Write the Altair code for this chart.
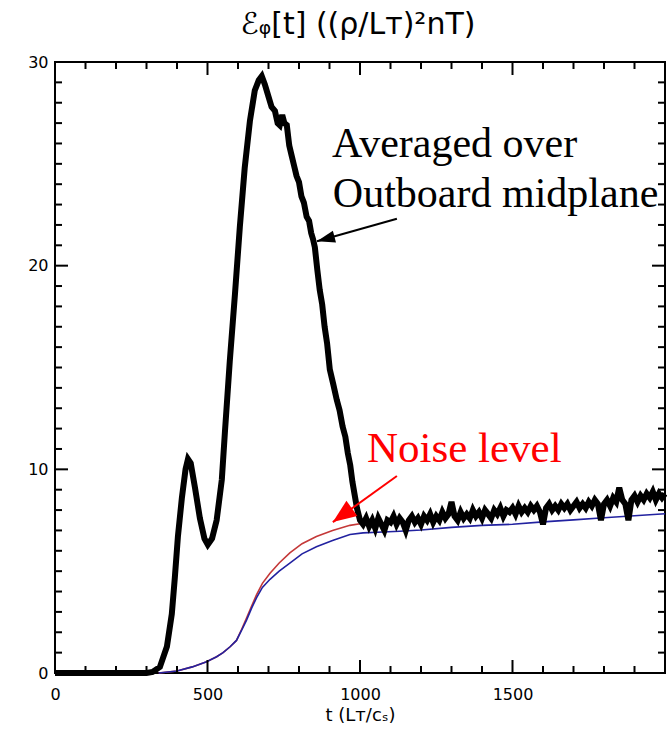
import altair as alt
import pandas as pd

# ---------------- data ----------------
# black: energy averaged over outboard midplane
black_t = [0, 100, 200, 300, 320, 344, 367, 383, 393, 403, 416, 428, 436, 445, 459, 475,
           490, 501, 515, 530, 547, 557, 573, 590, 606, 622, 639, 655, 668, 678, 688, 698,
           710, 721, 730, 737, 745, 752, 760, 768, 776, 784, 792, 800, 808, 816, 825, 833,
           840, 846, 852, 860, 868, 876, 884, 892, 901, 912, 924, 933, 943, 952, 960, 968,
           975, 983, 990,
           1000, 1010, 1020, 1030, 1040, 1050, 1060, 1070, 1080, 1090,
           1100, 1110, 1120, 1130, 1140, 1150, 1160, 1170, 1180, 1190,
           1200, 1210, 1220, 1230, 1240, 1250, 1260, 1270, 1280, 1290,
           1300, 1310, 1320, 1330, 1340, 1350, 1360, 1370, 1380, 1390,
           1400, 1410, 1420, 1430, 1440, 1450, 1460, 1470, 1480, 1490,
           1500, 1510, 1520, 1530, 1540, 1550, 1560, 1570, 1580, 1590,
           1600, 1610, 1620, 1630, 1640, 1650, 1660, 1670, 1680, 1690,
           1700, 1710, 1720, 1730, 1740, 1750, 1760, 1770, 1780, 1790,
           1800, 1810, 1820, 1830, 1840, 1850, 1860, 1870, 1880, 1890,
           1900, 1910, 1920, 1930, 1940, 1950, 1960, 1970, 1980, 1990, 2000]
black_v = [0.0, 0.0, 0.0, 0.0, 0.05, 0.3, 1.3, 2.9, 4.7, 6.7, 8.6, 10.0, 10.5, 10.3, 9.1, 7.6,
           6.6, 6.3, 6.6, 7.5, 9.5, 11.8, 15.3, 18.6, 21.9, 24.8, 27.1, 28.6, 29.1, 29.3, 28.9, 28.4,
           27.8, 27.6, 27.0, 26.9, 27.4, 27.0, 26.9, 25.9, 25.4, 24.9, 24.4, 24.1, 23.4, 23.1, 22.4, 22.2,
           21.6, 21.3, 20.9, 19.8, 18.8, 18.1, 17.0, 16.2, 14.9, 14.2, 13.4, 12.9, 12.1, 11.6, 10.8, 10.2,
           9.4, 8.7, 8.1,
           7.5, 7.3, 7.6, 7.2, 7.5, 7.1, 7.6, 7.3, 7.0, 7.5,
           7.4, 7.7, 7.3, 7.6, 7.4, 7.0, 7.5, 7.7, 7.4, 7.6,
           7.3, 7.7, 7.5, 7.8, 7.4, 7.7, 7.5, 7.9, 7.6, 7.8,
           8.4, 7.7, 7.5, 7.9, 7.6, 7.8, 7.6, 8.0, 7.7, 7.9,
           7.6, 8.0, 7.8, 7.6, 8.0, 7.8, 8.1, 7.7, 8.0, 7.9,
           8.1, 7.8, 8.2, 7.9, 8.1, 7.9, 8.2, 8.0, 8.2, 7.9,
           7.3, 8.1, 8.3, 8.0, 8.2, 8.0, 8.3, 8.1, 8.3, 8.0,
           8.2, 8.4, 8.1, 8.3, 8.1, 8.4, 8.2, 8.5, 8.3, 7.5,
           8.3, 8.5, 8.2, 8.6, 8.4, 9.1, 8.5, 8.3, 7.5, 8.5,
           8.7, 8.4, 8.7, 8.5, 8.8, 8.6, 8.9, 8.5, 8.8, 8.6, 8.8]

# blue: noise level (lower curve)
blue_t = [340, 400, 450, 497, 530, 551, 575, 595, 612, 628, 645, 661, 680, 705, 735, 770,
          810, 857, 910, 967, 1010, 1075, 1130, 1200, 1300, 1400, 1500, 1600, 1700, 1800,
          1900, 2000]
blue_v = [0.0, 0.1, 0.3, 0.55, 0.8, 1.0, 1.3, 1.6, 2.1, 2.6, 3.2, 3.7, 4.2, 4.6, 5.0, 5.4,
          5.85, 6.2, 6.5, 6.8, 6.88, 6.92, 6.96, 7.02, 7.15, 7.25, 7.3, 7.42, 7.52, 7.62,
          7.72, 7.82]

# red: noise level (upper curve)
red_t = [340, 400, 450, 497, 530, 551, 575, 595, 612, 628, 645, 661, 680, 705, 735, 770,
         810, 857, 910, 967, 1010]
red_v = [0.0, 0.1, 0.3, 0.55, 0.8, 1.0, 1.3, 1.6, 2.15, 2.7, 3.3, 3.85, 4.4, 4.9, 5.4, 5.9,
         6.35, 6.7, 7.0, 7.25, 7.35]

# axis tick values
x_major = [500, 1000, 1500]
x_minor = [100, 200, 300, 400, 600, 700, 800, 900, 1100, 1200, 1300, 1400,
           1600, 1700, 1800, 1900]
y_major = [10, 20]
y_minor = [1, 2, 3, 4, 5, 6, 7, 8, 9, 11, 12, 13, 14, 15, 16, 17, 18, 19,
           21, 22, 23, 24, 25, 26, 27, 28, 29]
x_labels = [0, 500, 1000, 1500]
y_labels = [0, 10, 20, 30]

TITLE = "ℰᵩ[t]  ((ρ/Lᴛ)²nT)"
X_TITLE = "t (Lᴛ/cₛ)"

# ---------------- chart ----------------
W, H = 610, 611
X0, X1, Y0, Y1 = 0, 2000, 0, 30
MAJ, MIN = 13, 7              # tick lengths in pixels
PX_X = W / (X1 - X0)          # pixels per x unit
PX_Y = H / (Y1 - Y0)          # pixels per y unit
FONT = "DejaVu Sans"

xs = alt.Scale(domain=[X0, X1], nice=False, zero=False)
ys = alt.Scale(domain=[Y0, Y1], nice=False, zero=False)

x_axis = alt.Axis(values=x_labels, format="d", ticks=False, domain=False, grid=False,
                  labelFlush=False, labelPadding=13, labelFont=FONT,
                  labelFontSize=16, labelColor="black",
                  title=X_TITLE, titleFont=FONT, titleFontSize=18,
                  titleFontWeight="normal", titleColor="black", titlePadding=4)
y_axis = alt.Axis(values=y_labels, format="d", ticks=False, domain=False, grid=False,
                  labelFlush=False, labelPadding=7, labelFont=FONT,
                  labelFontSize=16, labelColor="black", title=None)

def X(field):
    return alt.X(field, scale=xs, axis=x_axis)

def Y(field):
    return alt.Y(field, scale=ys, axis=y_axis)

df_black = pd.DataFrame({"t": black_t, "v": black_v})
df_blue = pd.DataFrame({"t": blue_t, "v": blue_v})
df_red = pd.DataFrame({"t": red_t, "v": red_v})

red = alt.Chart(df_red).mark_line(color="#c43838", strokeWidth=1.6).encode(
    x=X("t:Q"), y=Y("v:Q"))
blue = alt.Chart(df_blue).mark_line(color="#2222a0", strokeWidth=1.6).encode(
    x=X("t:Q"), y=Y("v:Q"))
black = alt.Chart(df_black).mark_line(color="black", strokeWidth=6,
                                      strokeJoin="miter").encode(
    x=X("t:Q"), y=Y("v:Q"))

# inward ticks on all four sides, built through the scales
xt_rows = []
for vals, ln in ((x_major, MAJ), (x_minor, MIN)):
    for v in vals:
        xt_rows.append({"x": v, "a": Y0, "b": Y0 + ln / PX_Y})
        xt_rows.append({"x": v, "a": Y1, "b": Y1 - ln / PX_Y})
yt_rows = []
for vals, ln in ((y_major, MAJ), (y_minor, MIN)):
    for v in vals:
        yt_rows.append({"y": v, "a": X0, "b": X0 + ln / PX_X})
        yt_rows.append({"y": v, "a": X1, "b": X1 - ln / PX_X})

xticks = alt.Chart(pd.DataFrame(xt_rows)).mark_rule(color="black", strokeWidth=2).encode(
    x=X("x:Q"), y=Y("a:Q"), y2="b:Q")
yticks = alt.Chart(pd.DataFrame(yt_rows)).mark_rule(color="black", strokeWidth=2).encode(
    y=Y("y:Q"), x=X("a:Q"), x2="b:Q")

# annotations (positions in data units)
ann_black = pd.DataFrame({"t": [908, 911], "v": [25.33, 22.88],
                          "label": ["Averaged over", "Outboard midplane"]})
ann_red = pd.DataFrame({"t": [1023], "v": [10.36], "label": ["Noise level"]})

txt_black = alt.Chart(ann_black).mark_text(
    font="Liberation Serif", fontSize=42, align="left", baseline="alphabetic",
    color="black").encode(x=X("t:Q"), y=Y("v:Q"), text="label:N")
txt_red = alt.Chart(ann_red).mark_text(
    font="Liberation Serif", fontSize=43, align="left", baseline="alphabetic",
    color="#ff0000").encode(x=X("t:Q"), y=Y("v:Q"), text="label:N")

arrows = pd.DataFrame({
    "t0": [1121, 1121], "v0": [22.3, 9.67],
    "t1": [859, 911], "v1": [21.2, 7.41],
    "col": ["black", "red"],
})
arrow_lines = alt.Chart(arrows).mark_rule(strokeWidth=2).encode(
    x=X("t0:Q"), x2="t1:Q", y=Y("v0:Q"), y2="v1:Q",
    color=alt.Color("col:N", scale=alt.Scale(domain=["black", "red"],
                                             range=["black", "#ff0000"]), legend=None),
)
head_black = alt.Chart(arrows.iloc[[0]]).mark_point(
    shape="M0,0L-1,-0.34L-1,0.34Z", filled=True, opacity=1, color="black",
    size=1300, angle=165.3).encode(x=X("t1:Q"), y=Y("v1:Q"))
head_red = alt.Chart(arrows.iloc[[1]]).mark_point(
    shape="M0,0L-1,-0.4L-1,0.4Z", filled=True, opacity=1, color="#ff0000",
    size=2200, angle=144.3).encode(x=X("t1:Q"), y=Y("v1:Q"))

title = alt.Chart(pd.DataFrame({"label": [TITLE]})).mark_text(
    font=FONT, fontSize=30, align="center", baseline="alphabetic",
    color="black").encode(text="label:N", x=alt.value(W / 2 - 2), y=alt.value(-28))

chart = alt.layer(red, blue, black, xticks, yticks, arrow_lines, head_black, head_red,
                  txt_black, txt_red, title).properties(
    width=W, height=H,
    autosize=alt.AutoSizeParams(type="none"),
    padding={"left": 55, "top": 62, "right": 2, "bottom": 58},
    background="white",
).configure_view(stroke="black", strokeWidth=2)

chart.save("out.html", embed_options={"renderer": "svg", "actions": False})
